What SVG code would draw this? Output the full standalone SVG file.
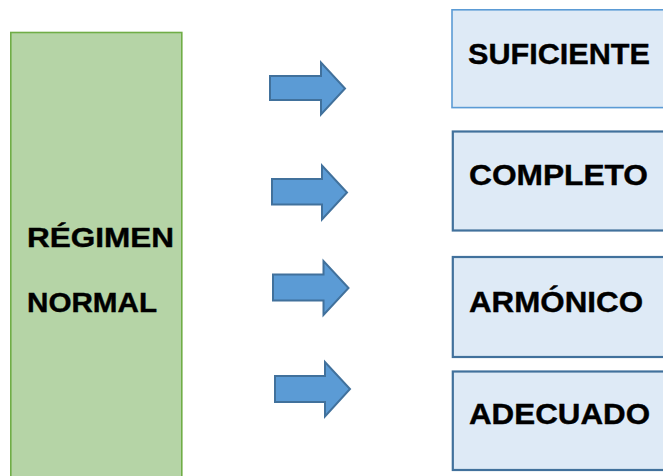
<svg xmlns="http://www.w3.org/2000/svg" width="663" height="476" viewBox="0 0 663 476">
<style>
.bg{fill:#ffffff}
.main{fill:#b5d4a6;stroke:#70ad47;stroke-width:1.6}
.box{fill:#deeaf6;stroke:#41719c;stroke-width:2.2}
.box1{fill:#deeaf6;stroke:#5b9bd5;stroke-width:1.6}
.arrow{fill:#5b9bd5;stroke:#41719c;stroke-width:2;stroke-linejoin:miter}
.t{font-family:"Liberation Sans",Arial,sans-serif;font-weight:bold;fill:#000000;stroke:#000000;stroke-width:0.4}
.tb{font-size:30px}
.tm{font-size:27px}
</style>
<rect class="bg" x="0" y="0" width="663" height="476"/>
<g id="regimen-normal">
<rect class="main" x="10.8" y="32.5" width="171" height="460"/>
<text class="t tm" x="27" y="246.5" textLength="147" lengthAdjust="spacingAndGlyphs">RÉGIMEN</text>
<text class="t tm" x="27" y="312" textLength="130" lengthAdjust="spacingAndGlyphs">NORMAL</text>
</g>
<g id="connectors">
<polygon class="arrow" points="270,76 321,76 321,62.5 345,88.5 321,114.5 321,100 270,100"/>
<polygon class="arrow" points="272,179 322,179 322,165.5 347,192.5 322,219.5 322,204.5 272,204.5"/>
<polygon class="arrow" points="273,274.5 323.5,274.5 323.5,261 348.5,288 323.5,315 323.5,300.5 273,300.5"/>
<polygon class="arrow" points="275,376 325,376 325,362 350,389 325,416.5 325,402 275,402"/>
</g>
<g id="suficiente">
<rect class="box1" x="452" y="9.8" width="230" height="97.8"/>
<text class="t tb" x="468" y="63.5" textLength="182" lengthAdjust="spacingAndGlyphs">SUFICIENTE</text>
</g>
<g id="completo">
<rect class="box" x="452.8" y="131.5" width="230" height="99"/>
<text class="t tb" x="469" y="185" textLength="179" lengthAdjust="spacingAndGlyphs">COMPLETO</text>
</g>
<g id="armonico">
<rect class="box" x="452.8" y="257" width="230" height="100"/>
<text class="t tb" x="469" y="311.7" textLength="174" lengthAdjust="spacingAndGlyphs">ARMÓNICO</text>
</g>
<g id="adecuado">
<rect class="box" x="452.8" y="371.5" width="230" height="98.5"/>
<text class="t tb" x="469" y="424.3" textLength="181" lengthAdjust="spacingAndGlyphs">ADECUADO</text>
</g>
</svg>
